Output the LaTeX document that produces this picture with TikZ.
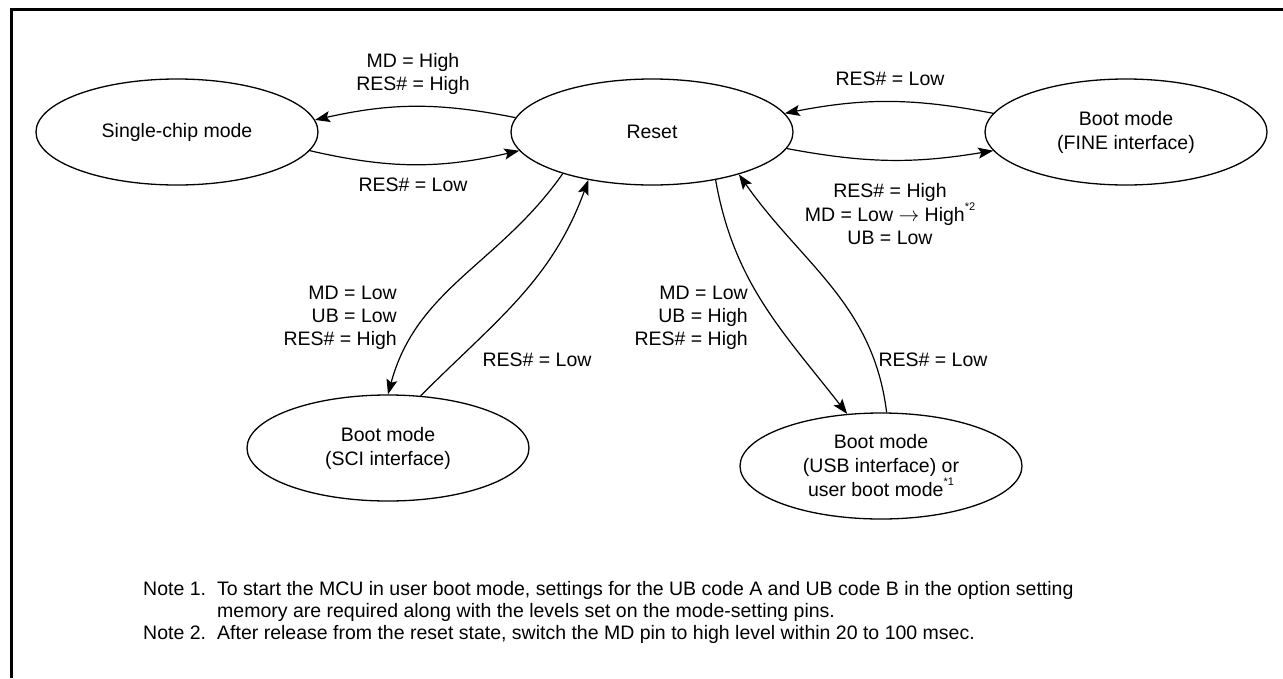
\documentclass[tikz,border=0pt]{standalone}
\usepackage{fontspec}
\setmainfont{Liberation Sans}
\usetikzlibrary{arrows.meta,shapes.geometric}
\newcommand{\supmark}[1]{\raisebox{1.1ex}{\fontsize{11}{11}\selectfont #1}}
\begin{document}
\begin{tikzpicture}[x=1pt,y=1pt,
 state/.style={draw,ellipse,line width=1.3pt,minimum width=282pt,minimum height=106pt,inner sep=0pt,align=center,font=\fontsize{19.5}{24}\selectfont},
 lbl/.style={inner sep=0pt,font=\fontsize{19.5}{23}\selectfont},
 conn/.style={line width=1.2pt,-{Stealth[length=15pt,width=11pt,inset=3pt]}},
 note/.style={inner sep=0pt,anchor=base west,font=\fontsize{19.5}{22}\selectfont}]
\useasboundingbox (0,-678) rectangle (1283,0);
\draw[line width=3pt] (11,-678) -- (11,-9) -- (1283,-9);

\node[state] (single) at (177,-132) {Single-chip mode};
\node[state] (reset) at (652,-132) {Reset};
\node[state] (fine) at (1126,-132) {Boot mode\\(FINE interface)};
\node[state] (sci) at (388,-448) {Boot mode\\(SCI interface)};
\node[state] (usb) at (881,-466) {Boot mode\\(USB interface) or\\user boot mode\supmark{*1}};

\draw[conn] (reset.174) to[bend right=12] (single.5);
\draw[conn] (single.352) to[bend right=13] (reset.188);
\draw[conn] (fine.172) to[bend right=11] (reset.8);
\draw[conn] (reset.353) to[bend right=10] (fine.188);
\draw[conn] (reset.205) to[out=235,in=75] (sci.90);
\draw[conn] (sci.58) to[out=45,in=250] (reset.217);
\draw[conn] (reset.323) to[out=280,in=128] (usb.123);
\draw[conn] (usb.84) to[out=97,in=305] (reset.334);

\node[lbl,align=center] (l1) at (413,-73.5) {MD = High\\RES\# = High};
\node[lbl] (l2) at (413,-185) {RES\# = Low};
\node[lbl] (l3) at (890,-79) {RES\# = Low};
\node[lbl,align=center] (l4) at (890,-214) {RES\# = High\\MD = Low $\rightarrow$ High\supmark{*2}\\UB = Low};
\node[lbl,align=right,anchor=east] (l5) at (397,-318) {MD = Low\\UB = Low\\RES\# = High};
\node[lbl] (l6) at (537,-360) {RES\# = Low};
\node[lbl,align=right,anchor=east] (l7) at (748,-318) {MD = Low\\UB = High\\RES\# = High};
\node[lbl] (l8) at (933,-360) {RES\# = Low};

\node[note] (n1a) at (143,-595) {Note 1.};
\node[note] (n1b) at (217,-595) {To start the MCU in user boot mode, settings for the UB code A and UB code B in the option setting};
\node[note] (n1c) at (217,-617) {memory are required along with the levels set on the mode-setting pins.};
\node[note] (n2a) at (143,-639) {Note 2.};
\node[note] (n2b) at (217,-639) {After release from the reset state, switch the MD pin to high level within 20 to 100 msec.};
\end{tikzpicture}
\end{document}
